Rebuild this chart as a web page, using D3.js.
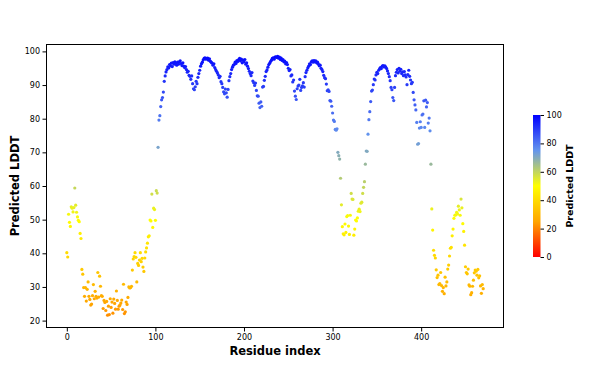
<!DOCTYPE html>
<html>
<head>
<meta charset="utf-8" />
<title>Predicted LDDT</title>
<style>
body { margin: 0; background: #fff; }
#graph { width: 595px; height: 369px; }
text { font-family: "DejaVu Sans", sans-serif; fill: #000; }
.axis text { font-size: 8px; }
.axis path { display: none; }
.axis line { stroke: #000; }
.label { font-weight: bold; }
</style>
</head>
<body>
<div id="graph"></div>

<script src="https://cdnjs.cloudflare.com/ajax/libs/d3/7.8.5/d3.min.js"></script>
<script>
!(function(){
    "use strict"

    // predicted LDDT per residue (residue 0..470)
    var plddt = [
        40.2, 38.9, 51.6, 49.2, 48.0, 53.8, 53.4, 52.3, 53.6, 59.4,
        54.3, 52.2, 50.8, 49.8, 49.4, 45.9, 44.4, 35.2, 33.8, 29.8,
        27.2, 29.8, 25.8, 29.3, 31.5, 27.2, 26.3, 24.6, 24.9, 27.4,
        30.7, 26.5, 28.7, 27.2, 26.7, 34.3, 27.0, 33.2, 30.2, 27.4,
        27.2, 23.6, 26.0, 25.4, 23.0, 25.7, 21.6, 24.3, 21.8, 26.5,
        23.9, 25.5, 22.2, 26.4, 25.1, 23.4, 28.8, 26.0, 23.4, 24.3,
        24.6, 25.2, 26.1, 23.3, 30.8, 22.1, 22.6, 25.5, 24.8, 26.9,
        30.0, 29.7, 29.8, 30.2, 35.0, 38.3, 39.0, 40.2, 38.8, 31.5,
        37.0, 36.4, 38.0, 40.2, 37.5, 38.5, 35.9, 34.6, 38.6, 40.4,
        41.6, 43.0, 44.9, 45.2, 49.9, 49.6, 57.6, 47.7, 53.4, 53.0,
        49.8, 58.6, 57.9, 71.5, 79.6, 80.9, 83.6, 85.6, 86.3, 87.9,
        91.1, 92.7, 93.9, 94.6, 95.4, 95.1, 96.1, 95.7, 96.5, 95.5,
        96.7, 96.2, 96.9, 96.4, 95.9, 96.8, 96.2, 96.9, 97.2, 96.4,
        95.8, 96.6, 95.6, 95.2, 95.5, 94.6, 93.8, 94.1, 92.9, 92.6,
        91.7, 92.7, 90.4, 88.9, 88.6, 89.5, 91.1, 90.4, 92.3, 93.4,
        94.4, 95.6, 96.3, 96.8, 97.5, 97.9, 98.1, 97.7, 97.9, 98.0,
        97.4, 97.8, 97.1, 96.8, 96.5, 95.9, 96.3, 95.2, 94.6, 94.1,
        93.6, 93.0, 92.2, 92.6, 91.0, 90.4, 89.3, 88.0, 87.4, 88.8,
        87.7, 86.4, 88.7, 91.3, 92.5, 93.4, 94.6, 95.3, 95.9, 96.1,
        96.8, 96.4, 97.3, 97.0, 97.6, 97.9, 97.2, 97.7, 96.6, 97.4,
        96.9, 97.6, 96.2, 96.6, 95.6, 94.9, 94.1, 93.4, 92.8, 93.7,
        91.2, 90.7, 89.9, 90.6, 88.4, 86.8, 86.7, 84.6, 83.3, 85.0,
        83.7, 89.4, 89.6, 91.4, 92.6, 94.0, 94.5, 95.3, 96.1, 96.5,
        97.0, 97.4, 97.9, 98.1, 97.7, 98.3, 98.4, 98.2, 98.5, 98.0,
        98.3, 97.6, 98.0, 97.3, 97.6, 96.9, 97.1, 96.3, 96.7, 96.1,
        95.0, 94.3, 94.6, 92.7, 93.0, 90.9, 91.5, 88.2, 86.7, 85.7,
        88.9, 89.7, 90.0, 91.7, 88.4, 89.3, 89.8, 90.7, 89.4, 92.5,
        93.7, 94.4, 95.1, 95.6, 96.3, 96.1, 96.9, 97.2, 96.8, 97.3,
        96.9, 97.2, 96.6, 96.8, 96.2, 95.7, 95.9, 95.0, 94.6, 94.0,
        92.9, 92.2, 91.9, 90.3, 88.3, 88.6, 88.1, 85.4, 85.2, 83.7,
        81.7, 79.6, 79.2, 76.8, 76.6, 77.0, 70.0, 69.0, 68.0, 62.3,
        54.4, 47.9, 45.8, 45.5, 48.7, 46.2, 50.9, 51.2, 48.1, 45.6,
        51.3, 57.8, 56.1, 56.0, 45.4, 47.2, 49.9, 49.6, 50.5, 52.5,
        53.1, 52.4, 54.9, 55.2, 57.8, 59.6, 61.3, 66.5, 70.4, 70.3,
        75.4, 79.7, 82.1, 85.1, 88.2, 88.5, 90.1, 91.8, 91.5, 93.0,
        93.8, 93.4, 94.4, 94.8, 95.2, 94.9, 95.6, 95.8, 95.4, 95.7,
        95.3, 94.9, 94.2, 93.4, 92.5, 91.3, 89.3, 88.6, 86.3, 85.4,
        89.3, 92.8, 93.8, 94.6, 93.6, 95.0, 94.1, 94.7, 93.4, 93.9,
        92.8, 94.0, 93.0, 92.4, 90.1, 93.1, 94.4, 92.6, 91.5, 90.4,
        90.8, 87.8, 85.6, 84.1, 82.6, 78.9, 72.4, 72.6, 77.2, 79.1,
        77.4, 81.1, 81.4, 85.3, 77.4, 85.5, 83.5, 84.8, 78.7, 80.2,
        76.4, 66.5, 53.2, 46.9, 40.9, 39.4, 38.6, 35.1, 32.8, 33.5,
        30.7, 31.0, 34.3, 30.4, 28.7, 29.8, 28.0, 32.9, 30.3, 31.5,
        35.3, 36.5, 39.2, 41.5, 41.8, 45.2, 47.2, 50.4, 51.3, 51.4,
        52.2, 51.7, 54.0, 52.9, 51.3, 56.1, 53.5, 48.8, 46.5, 42.4,
        36.0, 34.3, 33.9, 35.3, 30.6, 30.2, 27.7, 28.3, 30.2, 32.0,
        34.2, 35.0, 34.7, 33.5, 35.2, 32.7, 33.3, 30.3, 28.1, 30.7,
        29.5
    ]
    var residues = d3.range(plddt.length)

    var xTicks = [0, 100, 200, 300, 400]
    var yTicks = [20, 30, 40, 50, 60, 70, 80, 90, 100]
    var cbTicks = [0, 20, 40, 60, 80, 100]

    // colour map stops (pLDDT value -> colour)
    var cmapStops = [0, 25, 50, 75, 100]
    var cmapColors = ["#ff0000", "#ffa500", "#ffff00", "#6495ed", "#0000ff"]

    var width = 595, height = 369
    var margin = {top: 44, left: 46, bottom: 41, right: 91}
    var chartWidth = width - margin.left - margin.right
    var chartHeight = height - margin.top - margin.bottom

    var svg = d3.select("#graph").append("svg")
        .attr("width", width).attr("height", height)

    var chartLayer = svg.append("g")
        .attr("transform", "translate(" + [margin.left, margin.top] + ")")

    var xScale = d3.scaleLinear().domain([-23.5, 493.5]).range([0, chartWidth])
    var yScale = d3.scaleLinear().domain([17.8, 102.2]).range([chartHeight, 0])
    var color = d3.scaleLinear().domain(cmapStops).range(cmapColors)
        .interpolate(d3.interpolateRgb).clamp(true)

    // points
    chartLayer.selectAll(".pt").data(residues).enter().append("circle")
        .attr("class", "pt")
        .attr("cx", function(i){ return xScale(i) })
        .attr("cy", function(i){ return yScale(plddt[i]) })
        .attr("r", 1.6)
        .attr("fill", function(i){ return color(plddt[i]) })

    // axes
    var xAxis = d3.axisBottom(xScale).tickValues(xTicks).tickSize(3.5).tickPadding(3)
    chartLayer.append("g").attr("class", "axis x")
        .attr("transform", "translate(0," + chartHeight + ")")
        .call(xAxis)

    var yAxis = d3.axisLeft(yScale).tickValues(yTicks).tickSize(3.5).tickPadding(2.5)
    chartLayer.append("g").attr("class", "axis y").call(yAxis)

    chartLayer.append("rect")
        .attr("x", 0.5).attr("y", 0.5)
        .attr("width", chartWidth - 1).attr("height", chartHeight - 1)
        .attr("fill", "none").attr("stroke", "#000").attr("stroke-width", 1)

    svg.append("text").attr("class", "label")
        .attr("x", margin.left + chartWidth / 2).attr("y", 355)
        .attr("text-anchor", "middle").style("font-size", "11.5px")
        .text("Residue index")

    svg.append("text").attr("class", "label")
        .attr("transform", "translate(19," + (margin.top + chartHeight / 2) + ") rotate(-90)")
        .attr("text-anchor", "middle").style("font-size", "11.5px")
        .text("Predicted LDDT")

    // colour bar
    var cbX = 533, cbTop = 115, cbW = 7.5, cbH = 142
    var cbScale = d3.scaleLinear().domain([0, 100]).range([cbH, 0])

    var grad = svg.append("defs").append("linearGradient")
        .attr("id", "cbgrad").attr("x1", 0).attr("y1", 1).attr("x2", 0).attr("y2", 0)
    grad.selectAll("stop").data(cmapStops).enter().append("stop")
        .attr("offset", function(d){ return d / 100 })
        .attr("stop-color", function(d, i){ return cmapColors[i] })

    var cb = svg.append("g").attr("transform", "translate(" + [cbX, cbTop] + ")")
    cb.append("rect").attr("width", cbW).attr("height", cbH).attr("fill", "url(#cbgrad)")

    var cbAxis = d3.axisRight(cbScale).tickValues(cbTicks).tickSize(3.5).tickPadding(2.5)
    cb.append("g").attr("class", "axis cb")
        .attr("transform", "translate(" + cbW + ",0)")
        .call(cbAxis)

    svg.append("text").attr("class", "label")
        .attr("transform", "translate(573," + (cbTop + cbH / 2) + ") rotate(-90)")
        .attr("text-anchor", "middle").style("font-size", "9.5px")
        .text("Predicted LDDT")

}());
</script>
</body>
</html>
